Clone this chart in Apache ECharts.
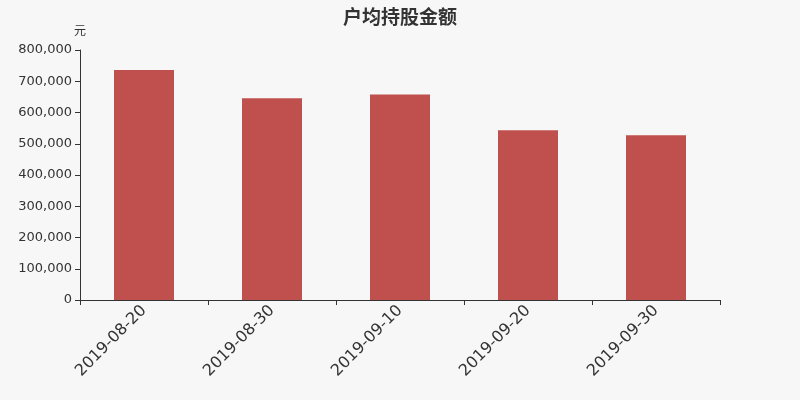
<!DOCTYPE html>
<html><head><meta charset="utf-8">
<script src="https://cdn.jsdelivr.net/npm/echarts@6/dist/echarts.min.js"></script>
<style>html,body{margin:0;padding:0;background:#f7f7f7}#c{width:800px;height:400px}</style>
</head><body><div id="c"></div>
<script>
const categories = ['2019-08-20','2019-08-30','2019-09-10','2019-09-20','2019-09-30'];
const values = [736000, 646000, 658000, 543000, 527000];
const chart = echarts.init(document.getElementById('c'));
chart.setOption({
  backgroundColor: '#f7f7f7',
  textStyle: { fontFamily: 'DejaVu Sans, Noto Sans CJK SC' },
  title: { text: '户均持股金额', left: 'center', top: 2,
    textStyle: { fontSize: 19, fontWeight: 'bold', color: '#333', fontFamily: 'Noto Sans CJK SC' } },
  grid: { left: 80, right: 80, top: 50, bottom: 100 },
  xAxis: { type: 'category', data: categories,
    axisLine: { lineStyle: { color: '#333' } },
    axisTick: { show: true, length: 5, lineStyle: { color: '#333' } },
    axisLabel: { rotate: 45, fontSize: 16, color: '#333', margin: 8 } },
  yAxis: { type: 'value', min: 0, max: 800000, interval: 100000,
    name: '元', nameGap: 14, nameTextStyle: { color: '#333', fontSize: 12, fontFamily: 'Noto Sans CJK SC', align: 'center' },
    axisLine: { show: true, lineStyle: { color: '#333' } },
    axisTick: { show: true, length: 5, lineStyle: { color: '#333' } },
    splitLine: { show: false },
    axisLabel: { fontSize: 13, color: '#333', formatter: v => v.toLocaleString('en-US') } },
  series: [{ type: 'bar', data: values, barWidth: 60, itemStyle: { color: '#c0504d' } }]
});
</script></body></html>
